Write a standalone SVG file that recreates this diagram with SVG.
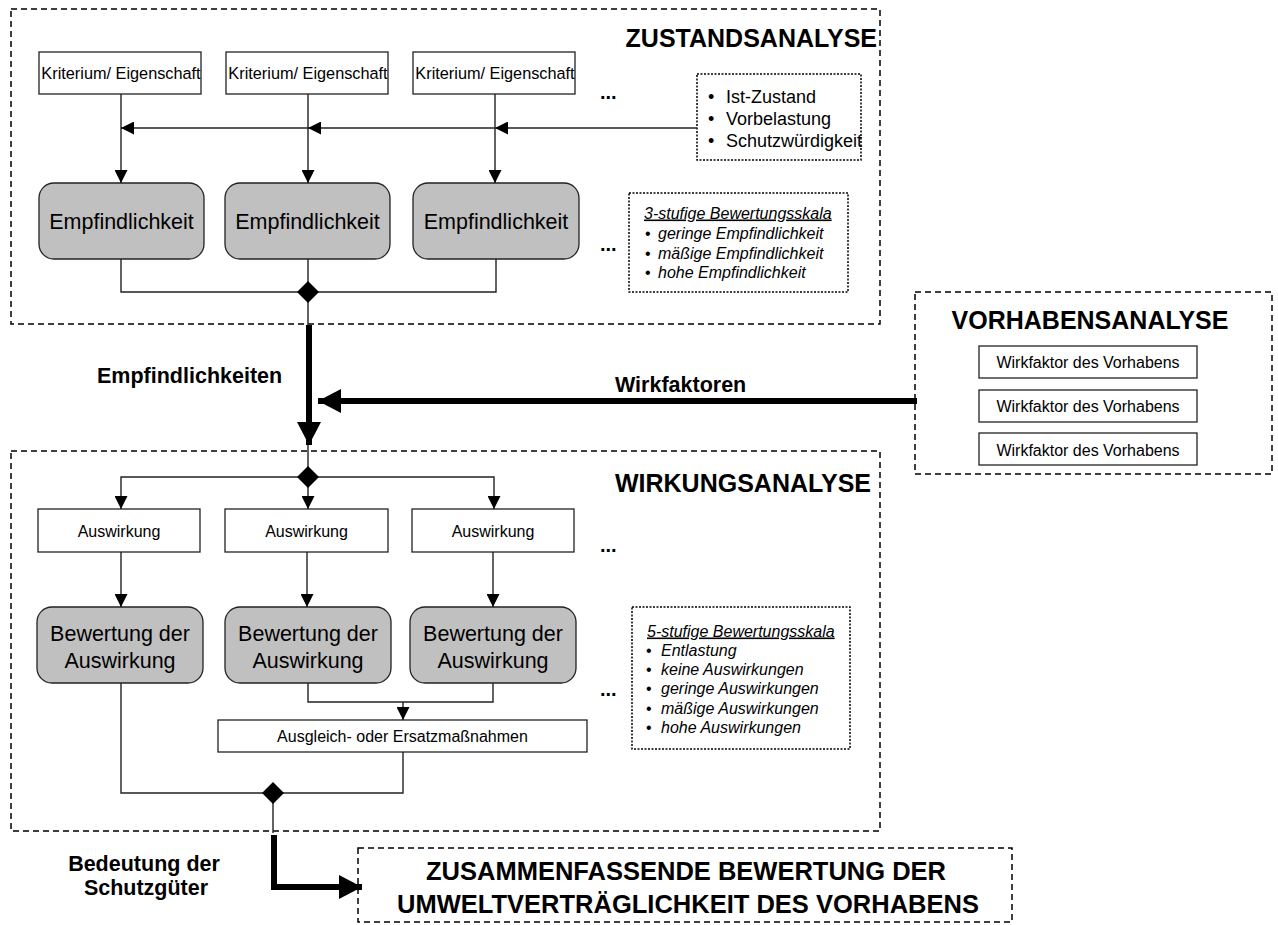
<svg xmlns="http://www.w3.org/2000/svg" width="1278" height="925" viewBox="0 0 1278 925">
<style>
text{font-family:"Liberation Sans",Arial,sans-serif;fill:#000}
.outer{fill:none;stroke:#000;stroke-width:1.5;stroke-dasharray:6 4}
.dot{fill:#fff;stroke:#000;stroke-width:1.5;stroke-dasharray:2 1.5}
.box{fill:#fff;stroke:#222;stroke-width:1.3}
.gbox{fill:#c0c0c0;stroke:#222;stroke-width:1.3}
.ln{fill:none;stroke:#222;stroke-width:1.4}
.thick{fill:none;stroke:#000;stroke-width:6}
.t16{font-size:16px}
.krit{font-size:16.3px}
.t18{font-size:18px}
.big{font-size:21.5px}
.bold{font-weight:bold}
.title{font-size:25px;font-weight:bold}
.it{font-size:16px;font-style:italic}
.dots{font-size:20px;font-weight:bold}
.mid{text-anchor:middle}
</style>
<defs>
<marker id="ah" markerUnits="userSpaceOnUse" markerWidth="13" markerHeight="13" refX="13" refY="6.5" orient="auto">
<path d="M0,0 L13,6.5 L0,13 Z" fill="#000"/>
</marker>
<marker id="ahT" markerUnits="userSpaceOnUse" markerWidth="24" markerHeight="24" refX="23" refY="12" orient="auto">
<path d="M0,0 L23,12 L0,24 Z" fill="#000"/>
</marker>
</defs>

<g id="zustandsanalyse">
<rect class="outer" x="11" y="9" width="869" height="315"/>
<text class="title" x="877" y="47" text-anchor="end">ZUSTANDSANALYSE</text>
</g>
<g id="kriterium1"><rect class="box" x="39" y="52" width="162" height="42"/><text class="krit mid" x="121" y="79">Kriterium/ Eigenschaft</text></g>
<g id="kriterium2"><rect class="box" x="226" y="52" width="162" height="42"/><text class="krit mid" x="308" y="79">Kriterium/ Eigenschaft</text></g>
<g id="kriterium3"><rect class="box" x="413" y="52" width="162" height="42"/><text class="krit mid" x="495" y="79">Kriterium/ Eigenschaft</text></g>
<g id="dots1"><text class="dots" x="600" y="99">...</text></g>
<g id="istzustand">
<rect class="dot" x="697" y="74" width="164" height="86"/>
<text class="t18" x="708" y="103">•</text><text class="t18" x="726" y="103">Ist-Zustand</text>
<text class="t18" x="708" y="125">•</text><text class="t18" x="726" y="125">Vorbelastung</text>
<text class="t18" x="708" y="146.5">•</text><text class="t18" x="726" y="146.5">Schutzwürdigkeit</text>
</g>
<g id="empf1"><rect class="gbox" x="39" y="183" width="165" height="76" rx="15"/><text class="big mid" x="121.5" y="229">Empfindlichkeit</text></g>
<g id="empf2"><rect class="gbox" x="225" y="183" width="165" height="76" rx="15"/><text class="big mid" x="307.5" y="229">Empfindlichkeit</text></g>
<g id="empf3"><rect class="gbox" x="413" y="183" width="166" height="76" rx="15"/><text class="big mid" x="496" y="229">Empfindlichkeit</text></g>
<g id="dots2"><text class="dots" x="600" y="251">...</text></g>
<g id="skala3">
<rect class="dot" x="629" y="193" width="219" height="99"/>
<text class="it" x="644" y="218.5" text-decoration="underline">3-stufige Bewertungsskala</text>
<text class="t16" x="645" y="239">•</text><text class="it" x="658" y="239">geringe Empfindlichkeit</text>
<text class="t16" x="645" y="258.5">•</text><text class="it" x="658" y="258.5">mäßige Empfindlichkeit</text>
<text class="t16" x="645" y="277.5">•</text><text class="it" x="658" y="277.5">hohe Empfindlichkeit</text>
</g>

<g id="vorhabensanalyse">
<rect class="outer" x="915" y="292" width="357" height="182"/>
<text class="title mid" x="1090" y="329">VORHABENSANALYSE</text>
</g>
<g id="wirkfaktor1"><rect class="box" x="979" y="346" width="218" height="32"/><text class="t16 mid" x="1088" y="368">Wirkfaktor des Vorhabens</text></g>
<g id="wirkfaktor2"><rect class="box" x="979" y="390" width="218" height="32"/><text class="t16 mid" x="1088" y="412">Wirkfaktor des Vorhabens</text></g>
<g id="wirkfaktor3"><rect class="box" x="979" y="433" width="218" height="32"/><text class="t16 mid" x="1088" y="455.5">Wirkfaktor des Vorhabens</text></g>

<g id="wirkungsanalyse">
<rect class="outer" x="11" y="451" width="869" height="380"/>
<text class="title" x="871" y="492" text-anchor="end">WIRKUNGSANALYSE</text>
</g>
<g id="ausw1"><rect class="box" x="38" y="509" width="162" height="43"/><text class="t16 mid" x="119" y="537">Auswirkung</text></g>
<g id="ausw2"><rect class="box" x="225" y="509" width="163" height="43"/><text class="t16 mid" x="306.5" y="537">Auswirkung</text></g>
<g id="ausw3"><rect class="box" x="412" y="509" width="162" height="43"/><text class="t16 mid" x="493" y="537">Auswirkung</text></g>
<g id="dots3"><text class="dots" x="600" y="552">...</text></g>
<g id="bew1"><rect class="gbox" x="37" y="607" width="166" height="76" rx="15"/><text class="big mid" x="120" y="641">Bewertung der</text><text class="big mid" x="120" y="668">Auswirkung</text></g>
<g id="bew2"><rect class="gbox" x="225" y="607" width="166" height="76" rx="15"/><text class="big mid" x="308" y="641">Bewertung der</text><text class="big mid" x="308" y="668">Auswirkung</text></g>
<g id="bew3"><rect class="gbox" x="410" y="607" width="166" height="76" rx="15"/><text class="big mid" x="493" y="641">Bewertung der</text><text class="big mid" x="493" y="668">Auswirkung</text></g>
<g id="dots4"><text class="dots" x="600" y="696">...</text></g>
<g id="ausgleich"><rect class="box" x="218" y="720" width="369" height="32"/><text class="t16 mid" x="402.5" y="742">Ausgleich- oder Ersatzmaßnahmen</text></g>
<g id="skala5">
<rect class="dot" x="632" y="607" width="218" height="142"/>
<text class="it" x="647" y="636.5" text-decoration="underline">5-stufige Bewertungsskala</text>
<text class="t16" x="646" y="655.5">•</text><text class="it" x="661" y="655.5">Entlastung</text>
<text class="t16" x="646" y="675">•</text><text class="it" x="661" y="675">keine Auswirkungen</text>
<text class="t16" x="646" y="694">•</text><text class="it" x="661" y="694">geringe Auswirkungen</text>
<text class="t16" x="646" y="713.5">•</text><text class="it" x="661" y="713.5">mäßige Auswirkungen</text>
<text class="t16" x="646" y="732.5">•</text><text class="it" x="661" y="732.5">hohe Auswirkungen</text>
</g>

<g id="zusammenfassung">
<rect class="outer" x="358" y="848" width="654" height="74"/>
<text class="title mid" x="686" y="880" style="font-size:25.5px">ZUSAMMENFASSENDE BEWERTUNG DER</text>
<text class="title mid" x="688" y="913" style="font-size:25.5px">UMWELTVERTRÄGLICHKEIT DES VORHABENS</text>
</g>

<g id="labels">
<text class="big bold" x="97" y="383">Empfindlichkeiten</text>
<text class="big bold" x="615" y="392">Wirkfaktoren</text>
<text class="big bold mid" x="144" y="871">Bedeutung der</text>
<text class="big bold mid" x="146" y="895">Schutzgüter</text>
</g>

<g id="connectors">
<path class="ln" d="M121,94 V183" marker-end="url(#ah)"/>
<path class="ln" d="M308,94 V183" marker-end="url(#ah)"/>
<path class="ln" d="M495,94 V183" marker-end="url(#ah)"/>
<path class="ln" d="M697,128 H495" marker-end="url(#ah)"/>
<path class="ln" d="M495,128 H308" marker-end="url(#ah)"/>
<path class="ln" d="M308,128 H121" marker-end="url(#ah)"/>
<path class="ln" d="M121,259 V292 H496 V259"/>
<path class="ln" d="M308,259 V325"/>
<path d="M308,281 L319,292 L308,303 L297,292 Z" fill="#000"/>
<path class="thick" d="M309,325 V445" marker-end="url(#ahT)"/>
<path class="thick" d="M917,401 H318" marker-end="url(#ahT)"/>
<path class="ln" d="M308,445 V509" marker-end="url(#ah)"/>
<path class="ln" d="M308,477 H121 V509" marker-end="url(#ah)"/>
<path class="ln" d="M308,477 H494 V509" marker-end="url(#ah)"/>
<path d="M308,466 L319,477 L308,488 L297,477 Z" fill="#000"/>
<path class="ln" d="M121,552 V607" marker-end="url(#ah)"/>
<path class="ln" d="M307,552 V607" marker-end="url(#ah)"/>
<path class="ln" d="M493,552 V607" marker-end="url(#ah)"/>
<path class="ln" d="M121,683 V793 H403 V752"/>
<path class="ln" d="M308,683 V702 H493 V683"/>
<path class="ln" d="M403,702 V720" marker-end="url(#ah)"/>
<path class="ln" d="M273,793 V833"/>
<path d="M273,782 L284,793 L273,804 L262,793 Z" fill="#000"/>
<path class="thick" d="M274,835 V887 H362" marker-end="url(#ahT)"/>
</g>
</svg>
